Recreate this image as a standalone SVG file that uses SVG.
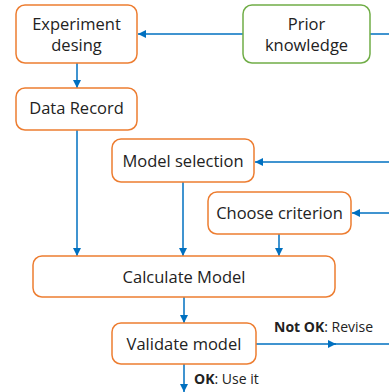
<svg xmlns="http://www.w3.org/2000/svg" width="389" height="392" viewBox="0 0 389 392">
<style>
.box{fill:#fff;stroke:#ED7D31;stroke-width:1.5}
.g{stroke:#70AD47}
.t{font-family:"Open Sans",sans-serif;font-size:16.5px;fill:#222;text-anchor:middle}
.l{font-family:"Open Sans",sans-serif;font-size:14px;fill:#222}
.c{stroke:#0070C0;stroke-width:1.5;fill:none}
</style>
<defs>
<marker id="a" viewBox="0 0 10 10" refX="10" refY="5" markerWidth="5.5" markerHeight="5.5" orient="auto" markerUnits="strokeWidth">
<path d="M0,0L10,5L0,10z" fill="#0070C0"/>
</marker>
</defs>
<rect width="389" height="392" fill="#fff"/>
<g id="connectors">
<line class="c" x1="389" y1="34" x2="370" y2="34"/>
<line class="c" x1="243" y1="34" x2="138" y2="34" marker-end="url(#a)"/>
<line class="c" x1="77" y1="63" x2="77" y2="88" marker-end="url(#a)"/>
<line class="c" x1="77" y1="130" x2="77" y2="256" marker-end="url(#a)"/>
<line class="c" x1="389" y1="162" x2="255" y2="162" marker-end="url(#a)"/>
<line class="c" x1="183" y1="182" x2="183" y2="256" marker-end="url(#a)"/>
<line class="c" x1="389" y1="213" x2="352" y2="213" marker-end="url(#a)"/>
<line class="c" x1="279" y1="234" x2="279" y2="256" marker-end="url(#a)"/>
<line class="c" x1="184" y1="297" x2="184" y2="323" marker-end="url(#a)"/>
<line class="c" x1="256" y1="344" x2="336" y2="344" marker-end="url(#a)"/>
<line class="c" x1="330" y1="344" x2="389" y2="344"/>
<line class="c" x1="184" y1="364" x2="184" y2="392" marker-end="url(#a)"/>
<text class="l" x="274" y="332"><tspan font-weight="bold">Not OK</tspan>: Revise</text>
<text class="l" x="194" y="384"><tspan font-weight="bold">OK</tspan>: Use it</text>
</g>
<g id="experiment">
<rect class="box" x="16" y="5" width="121" height="58" rx="9"/>
<text class="t" x="76.5" y="30">Experiment</text>
<text class="t" x="76.5" y="51">desing</text>
</g>
<g id="prior">
<rect class="box g" x="243" y="5" width="127" height="58" rx="9"/>
<text class="t" x="306.5" y="30">Prior</text>
<text class="t" x="306.5" y="51">knowledge</text>
</g>
<g id="datarecord">
<rect class="box" x="16" y="88" width="121" height="42" rx="9"/>
<text class="t" x="76.5" y="114">Data Record</text>
</g>
<g id="modelselection">
<rect class="box" x="112" y="139" width="142" height="43" rx="9"/>
<text class="t" x="183" y="167">Model selection</text>
</g>
<g id="criterion">
<rect class="box" x="208" y="192" width="143" height="42" rx="9"/>
<text class="t" x="279.5" y="219">Choose criterion</text>
</g>
<g id="calculate">
<rect class="box" x="33" y="256" width="302" height="41" rx="9"/>
<text class="t" x="184" y="283">Calculate Model</text>
</g>
<g id="validate">
<rect class="box" x="112" y="323" width="144" height="41" rx="9"/>
<text class="t" x="184" y="350">Validate model</text>
</g>
</svg>
